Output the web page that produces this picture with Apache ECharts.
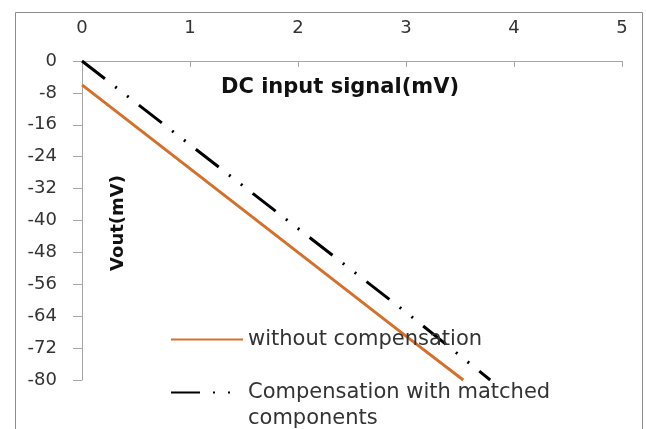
<!DOCTYPE html>
<html><head><meta charset="utf-8">
<script src="https://cdn.jsdelivr.net/npm/echarts@6/dist/echarts.min.js"></script>
<style>html,body{margin:0;padding:0;background:#fff}#c{width:646px;height:429px}</style>
</head><body><div id="c"></div>
<script>
const xTickLabels = ['0','1','2','3','4','5'];
const yTickLabels = ['0','-8','-16','-24','-32','-40','-48','-56','-64','-72','-80'];
const xWithout = [0, 1, 2, 3, 3.53];
const yWithout = [-6, -27, -48, -69, -80];
const xMatched = [0, 1, 2, 3, 3.78];
const yMatched = [0, -21, -42, -63, -80];
const seriesNames = ['without compensation', 'Compensation with matched'];
const legendSecondLine = 'components';
const xTitle = 'DC input signal(mV)';
const yTitle = 'Vout(mV)';

const FONT = 'DejaVu Sans';
const TXT = '#333';
const chart = echarts.init(document.getElementById('c'));
const axisColor = '#a6a6a6';
const dash = [29, 13, 2, 13, 2, 13];
chart.setOption({
  animation: false,
  grid: {left: 82, top: 61, right: 24, bottom: 49},
  xAxis: {
    type: 'value', position: 'top', min: 0, max: 5, interval: 1,
    axisLine: {onZero: false, lineStyle: {color: axisColor, width: 1}},
    axisTick: {inside: true, length: 6, lineStyle: {color: axisColor}},
    axisLabel: {margin: 24, fontSize: 18, color: TXT, fontFamily: FONT,
      formatter: v => xTickLabels[Math.round(v)]},
    splitLine: {show: false}
  },
  yAxis: {
    type: 'value', min: -80, max: 0, interval: 8,
    axisLine: {show: true, onZero: false, lineStyle: {color: axisColor, width: 1}},
    axisTick: {show: true, length: 9, lineStyle: {color: axisColor}},
    axisLabel: {margin: 25, fontSize: 18, color: TXT, fontFamily: FONT,
      formatter: v => yTickLabels[Math.round(-v / 8)]},
    splitLine: {show: false}
  },
  legend: {
    data: seriesNames, orient: 'vertical', left: 165, top: 324,
    itemWidth: 72, itemHeight: 20, itemGap: 32,
    itemStyle: {opacity: 0},
    textStyle: {fontSize: 21, color: TXT, fontFamily: FONT}, selectedMode: false
  },
  graphic: [
    {type: 'rect', left: 13, top: 10, shape: {width: 627, height: 440},
     style: {fill: 'none', stroke: '#8c8c8c', lineWidth: 1}, silent: true, z: -1},
    {type: 'text', x: 340, y: 88, style: {text: xTitle, fontSize: 21, fontWeight: 'bold', fontFamily: FONT, fill: '#111', align: 'center', verticalAlign: 'middle'}},
    {type: 'text', x: 118, y: 223, rotation: Math.PI / 2, style: {text: yTitle, fontSize: 18, fontWeight: 'bold', fontFamily: FONT, fill: '#111', align: 'center', verticalAlign: 'middle'}},
    {type: 'text', x: 248, y: 419, style: {text: legendSecondLine, fontSize: 21, fontFamily: FONT, fill: TXT, verticalAlign: 'middle'}}
  ],
  series: [
    {name: seriesNames[0], type: 'line', symbol: 'none',
     data: xWithout.map((x, i) => [x, yWithout[i]]),
     lineStyle: {color: '#d5702b', width: 3}, itemStyle: {color: '#d5702b'}},
    {name: seriesNames[1], type: 'line', symbol: 'none',
     data: xMatched.map((x, i) => [x, yMatched[i]]),
     lineStyle: {color: '#000', width: 3, type: dash}, itemStyle: {color: '#000'}}
  ]
});
</script></body></html>
